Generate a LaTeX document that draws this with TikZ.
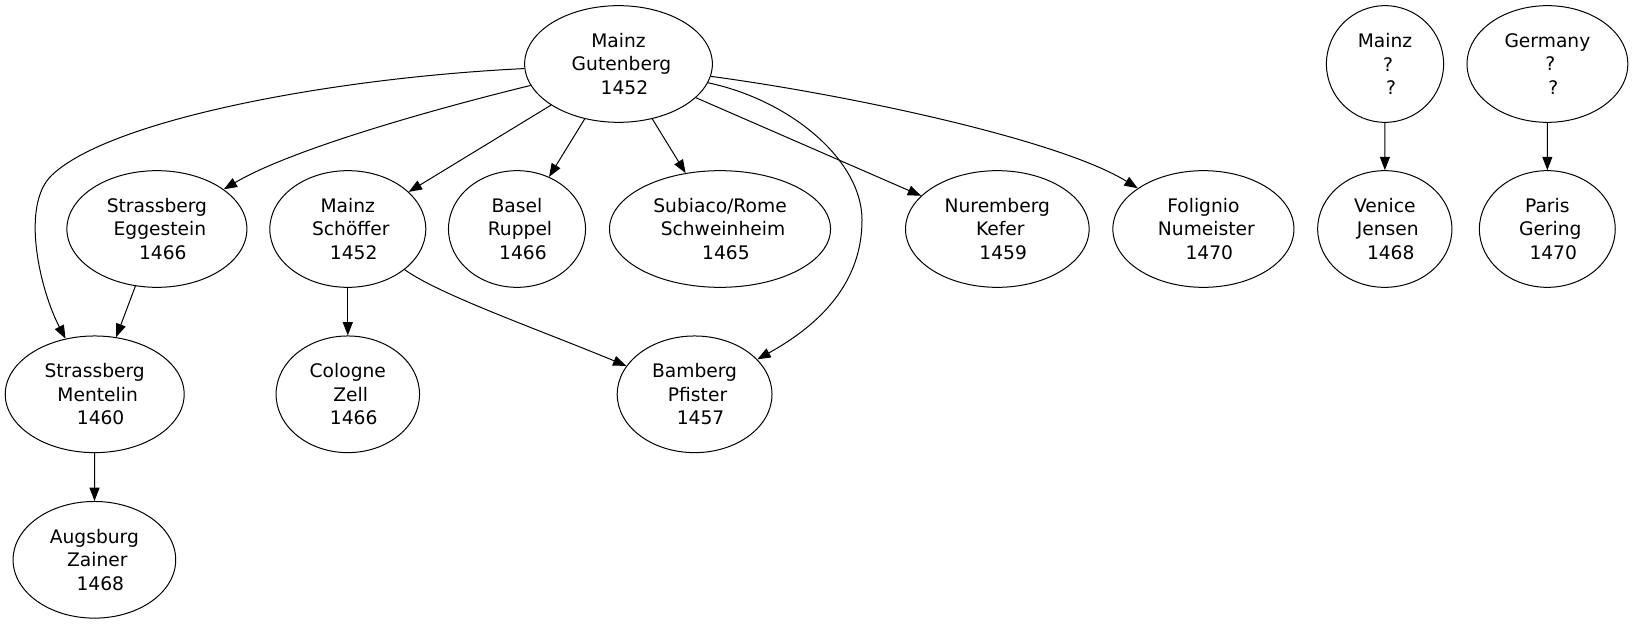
\documentclass[tikz,border=0pt]{standalone}
\usepackage{fontspec}
\setmainfont{DejaVu Sans}
\usetikzlibrary{shapes.geometric, arrows.meta}
\newcommand\etichetta[3]{#1\\\hspace*{4.45pt}#2\\\hspace*{8.9pt}#3}

\begin{document}
\begin{tikzpicture}[x=0.75pt, y=0.75pt, line join=round,
  citta/.style={ellipse, draw, line width=0.75pt, inner sep=0pt, minimum height=87.5pt,
    align=center, font=\fontsize{14pt}{17.5pt}\selectfont},
  freccia/.style={-{Triangle[length=10pt,width=7.5pt]}, line width=0.75pt}]
  \useasboundingbox (0,-624) rectangle (1633,0);

  % prima riga
  \node[citta, minimum width=140.8pt] (gut) at (618.5,-64) {\etichetta{Mainz}{Gutenberg}{1452}};
  \node[citta, minimum width=87.9pt] (mzq) at (1385,-64) {\etichetta{Mainz}{?}{?}};
  \node[citta, minimum width=120.6pt] (ger) at (1547.4,-64) {\etichetta{Germany}{?}{?}};

  % seconda riga
  \node[citta, minimum width=135pt] (egg) at (156.9,-229) {\etichetta{Strassberg}{Eggestein}{1466}};
  \node[citta, minimum width=117pt] (sch) at (347.8,-229) {\etichetta{Mainz}{Schöffer}{1452}};
  \node[citta, minimum width=102.8pt] (bas) at (517,-229) {\etichetta{Basel}{Ruppel}{1466}};
  \node[citta, minimum width=165.8pt] (sub) at (720,-229) {\etichetta{Subiaco/Rome}{Schweinheim}{1465}};
  \node[citta, minimum width=137.7pt] (nur) at (997.3,-229) {\etichetta{Nuremberg}{Kefer}{1459}};
  \node[citta, minimum width=135.8pt] (fol) at (1203.4,-229) {\etichetta{Folignio}{Numeister}{1470}};
  \node[citta, minimum width=100.7pt] (ven) at (1384.8,-229) {\etichetta{Venice}{Jensen}{1468}};
  \node[citta, minimum width=101.9pt] (par) at (1547.3,-229) {\etichetta{Paris}{Gering}{1470}};

  % terza e quarta riga
  \node[citta, minimum width=134.2pt] (men) at (94.7,-394.3) {\etichetta{Strassberg}{Mentelin}{1460}};
  \node[citta, minimum width=107.6pt] (col) at (347.8,-394.3) {\etichetta{Cologne}{Zell}{1466}};
  \node[citta, minimum width=116.1pt] (bam) at (694.6,-394.3) {\etichetta{Bamberg}{Pfister}{1457}};
  \node[citta, minimum width=122pt] (aug) at (94.4,-559.8) {\etichetta{Augsburg}{Zainer}{1468}};

  % archi da Gutenberg
  \draw[freccia] (gut) .. controls (330,-78) and (110,-120) .. (52,-175)
    .. controls (20,-205) and (40,-290) .. (men);
  \draw[freccia] (gut) .. controls (430,-110) and (290,-150) .. (egg);
  \draw[freccia] (gut) -- (sch);
  \draw[freccia] (gut) -- (bas);
  \draw[freccia] (gut) -- (sub);
  \draw[freccia] (gut) -- (nur);
  \draw[freccia] (gut) .. controls (850,-95) and (1060,-140) .. (fol);
  \draw[freccia] (gut) .. controls (790,-100) and (862,-160) .. (862,-220)
    .. controls (862,-290) and (810,-330) .. (bam);

  % altri archi
  \draw[freccia] (egg) -- (men);
  \draw[freccia] (sch) -- (col);
  \draw[freccia] (sch) .. controls (440,-295) and (540,-330) .. (bam);
  \draw[freccia] (men) -- (aug);
  \draw[freccia] (mzq) -- (ven);
  \draw[freccia] (ger) -- (par);
\end{tikzpicture}
\end{document}
